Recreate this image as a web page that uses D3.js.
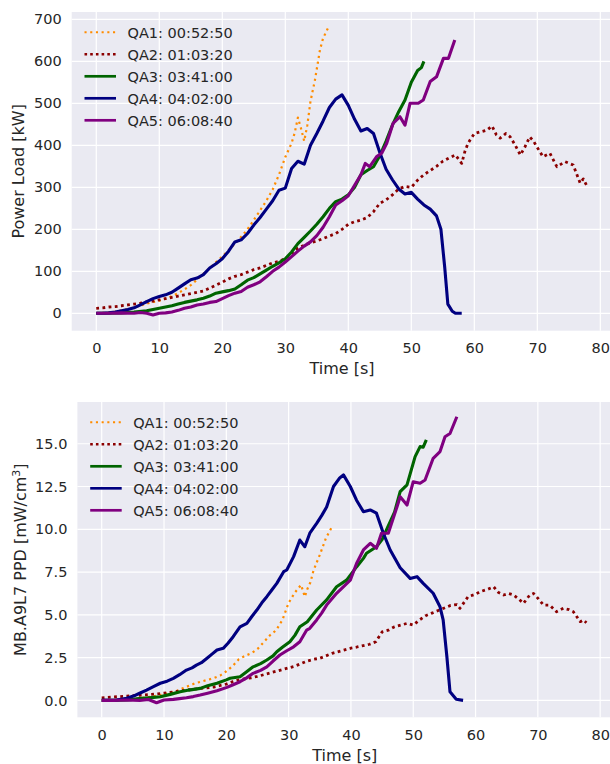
<!DOCTYPE html>
<html>
<head>
<meta charset="utf-8">
<script src="https://cdn.jsdelivr.net/npm/d3@7"></script>
<style>
body{margin:0;background:#fff;}
text{font-family:"DejaVu Sans",sans-serif;fill:#262626;}
</style>
</head>
<body>
<div id="chart"></div>
<script>
// series names and colours
var seriesNames = ['QA1: 00:52:50','QA2: 01:03:20','QA3: 03:41:00','QA4: 04:02:00','QA5: 06:08:40'];
var seriesColors = ['#ff8c00','#8b0000','#006400','#000080','#800080'];

var xTicks = [0,10,20,30,40,50,60,70,80];
var loadTicks = [0,100,200,300,400,500,600,700];
var ppdTicks = [0,2.5,5,7.5,10,12.5,15];

// power load [kW], pairs of [time s, value]
var qa1Load = [[0,0],[1,1],[2,2],[3,4],[4,7],[5,10],[6,14],[7,18],[8,23],[9,27],[10,30],[11,35],[12,41],[13,48],[14,57],[15,67],[16,80],[17,94],[18,107],[19,122],[20,135],[21,150],[22,166],[23,182],[24,200],[25,222],[26,245],[27,268],[28,295],[29,330],[30,372],[31,405],[31.5,430],[32,466],[32.5,440],[33,410],[33.5,448],[34,505],[34.7,555],[35.5,627],[36,655],[36.8,680]];
var qa2Load = [[0,12],[1,13],[2,15],[3,16],[4,18],[5,20],[6,22],[7,24],[8,27],[9,29],[10,32],[11,35],[12,38],[13,41],[14,44],[15,47],[16,50],[17,53],[18,60],[19,67],[20,74],[21,82],[22,88],[23,92],[24,98],[25,104],[26,108],[27,114],[28,120],[29,124],[30,130],[31,142],[32,155],[33,162],[34,168],[35,172],[36,178],[37,184],[38,190],[39,200],[40,212],[41,218],[42,222],[43,228],[44,242],[45,262],[46,270],[47,282],[48,296],[49,302],[50,300],[51,317],[52,330],[53,340],[54,350],[55,362],[56,370],[57,377],[58,357],[58.5,385],[59,405],[60,428],[61,432],[62,436],[62.8,446],[63.5,425],[64.1,417],[65,428],[65.7,420],[66.5,400],[67.3,377],[68,395],[68.8,420],[69.4,410],[69.9,397],[70.9,373],[72,381],[73.1,349],[74.4,361],[75.7,353],[76.8,310],[77.3,320],[77.8,305]];
var qa3Load = [[0,0],[2,0],[4,1],[6,3],[8,6],[10,12],[11,15],[12,18],[13,22],[14,26],[15,29],[16,32],[17,36],[18,41],[19,48],[20,51],[21,54],[22,58],[23,68],[24,79],[25,85],[26,94],[27,103],[28,112],[29,120],[30,130],[31,146],[32,166],[33,181],[34,196],[35,212],[36,230],[37,250],[38,266],[39,272],[40,282],[41,300],[42,330],[43,340],[44,349],[45,375],[46,410],[47,448],[48,480],[49,508],[50,550],[51,578],[51.6,585],[52,600]];
var qa4Load = [[0,0],[1,0],[2,1],[3,3],[4,6],[5,9],[6,13],[7,20],[8,28],[9,35],[10,40],[11,44],[12,50],[13,60],[14,70],[15,80],[16,84],[17,92],[18,108],[19,118],[20,130],[21,148],[22,170],[23,175],[24,190],[25,210],[26,228],[27,248],[28,268],[29,293],[30,298],[31,345],[32,362],[33,355],[34,400],[35,428],[36,458],[37,490],[38,510],[39,520],[40,495],[41,462],[42,434],[43,440],[44,428],[45,383],[46,343],[47,318],[48,296],[49,284],[50,288],[51,272],[52,258],[53,248],[54,232],[54.7,200],[55.3,110],[55.8,22],[56.5,5],[57,0],[58,0]];
var qa5Load = [[0,0],[2,0],[4,1],[6,0],[7,2],[8,0],[9,-4],[10,0],[11,1],[12,3],[13,7],[14,12],[15,15],[16,20],[17,22],[18,26],[19,28],[20,35],[21,42],[22,48],[23,52],[24,62],[25,68],[26,75],[27,87],[28,100],[29,110],[30,122],[31,135],[32,148],[33,160],[34,170],[35,185],[36,205],[37,230],[38,258],[39,268],[40,280],[41,305],[42,330],[42.7,357],[43.4,349],[44.5,373],[45.3,381],[46.1,405],[47.1,452],[48.2,468],[49,448],[49.8,500],[51.1,500],[51.9,508],[53,552],[54,563],[55.1,607],[55.9,607],[56.9,651]];

// PPD [mW/cm3]
var qa1Ppd = [[0,0],[2,0.02],[4,0.06],[6,0.12],[8,0.22],[10,0.35],[11,0.45],[12,0.55],[13,0.7],[14,0.85],[15,1.0],[16,1.1],[17,1.2],[18,1.3],[19,1.45],[20,1.7],[21,2.0],[22,2.4],[23,2.6],[24,2.75],[25,3.0],[26,3.4],[27,3.8],[28,4.1],[29,4.7],[30,5.7],[31,6.3],[32,6.75],[32.6,6.06],[33,6.5],[33.5,6.9],[34,7.6],[35,8.5],[36,9.5],[36.9,10.1]];
var qa2Ppd = [[0,0.15],[2,0.2],[4,0.25],[6,0.3],[8,0.35],[10,0.42],[12,0.52],[14,0.62],[16,0.7],[18,0.78],[20,0.95],[21,1.09],[22,1.2],[24,1.32],[25,1.4],[26,1.5],[28,1.7],[29,1.8],[30,1.9],[31,2.0],[32,2.15],[33,2.3],[34,2.4],[35,2.46],[36,2.6],[37,2.75],[38,2.85],[39,2.95],[40,3.05],[41,3.12],[42,3.2],[43,3.28],[44,3.43],[45,4.0],[46,4.1],[47,4.3],[48,4.4],[49,4.5],[50,4.4],[51,4.7],[52,4.95],[53,5.1],[54,5.25],[55,5.4],[56,5.55],[57,5.6],[57.5,5.38],[58.8,6.06],[60,6.2],[60.7,6.35],[62,6.5],[62.9,6.64],[63.7,6.3],[64.5,6.16],[65.3,6.25],[66.1,6.16],[67,5.9],[67.7,5.67],[68.7,6.16],[69.3,6.25],[69.8,6.06],[70.9,5.57],[71.9,5.57],[73,5.18],[74.1,5.38],[75,5.3],[75.7,5.18],[76.8,4.6],[77.3,4.7],[77.8,4.54]];
var qa3Ppd = [[0,0],[2,0],[4,0.03],[5,0.06],[6,0.1],[8,0.16],[9.4,0.21],[11,0.35],[12.6,0.5],[14,0.6],[15.8,0.7],[17,0.85],[18.5,1.0],[20,1.2],[20.6,1.29],[22.2,1.38],[23,1.6],[24.3,1.96],[25.5,2.15],[26.5,2.36],[27.5,2.6],[28.1,2.84],[29,3.1],[30.2,3.43],[31,3.8],[31.8,4.3],[33,4.6],[34.5,5.28],[36.1,5.87],[37.7,6.64],[39.3,7.03],[40.9,7.8],[42,8.3],[42.5,8.6],[44.1,8.98],[45,9.4],[45.7,9.96],[47,11.0],[47.9,12.2],[49,12.6],[50.3,14.25],[51.1,14.83],[51.6,14.8],[52.1,15.22]];
var qa4Ppd = [[0,0],[1,0],[2.4,0.02],[4,0.12],[5.1,0.25],[6,0.4],[7.2,0.6],[8.3,0.8],[9.4,1.0],[10.5,1.12],[11.5,1.29],[12.5,1.5],[13.6,1.77],[14.5,1.9],[15.2,2.06],[16,2.2],[16.9,2.46],[17.7,2.7],[18.5,2.94],[19.5,3.04],[20.3,3.35],[21.1,3.72],[22.2,4.3],[23.3,4.5],[24.1,4.9],[24.9,5.28],[25.7,5.7],[26.5,6.06],[27.3,6.45],[28.1,6.84],[29.2,7.52],[29.7,7.62],[30.8,8.4],[31.8,9.37],[32.6,8.98],[33.4,9.77],[34.5,10.35],[35.3,10.8],[36.1,11.3],[37.2,12.5],[38.2,13.0],[38.8,13.18],[39.9,12.5],[40.9,11.7],[42,11.03],[43.1,11.13],[44.1,10.94],[45.2,9.77],[46.3,8.79],[47.9,7.75],[49.5,7.13],[50.6,7.23],[51.6,6.84],[53.2,6.26],[54.3,5.47],[54.8,4.7],[55.4,2.55],[55.9,0.5],[56.9,0.06],[58,0]];
var qa5Ppd = [[0,0],[2,0],[4,0.02],[6.1,0],[7.5,0.05],[8.8,-0.14],[10,0.02],[11.5,0.06],[12.5,0.1],[13.6,0.15],[14.7,0.22],[15.8,0.31],[17,0.42],[18.5,0.56],[20.1,0.76],[21,0.9],[22.2,1.09],[23.2,1.3],[24.3,1.58],[25.5,1.75],[26.5,1.96],[27.5,2.3],[28.6,2.65],[29.7,2.9],[30.8,3.13],[31.8,3.43],[32.9,4.11],[33.4,4.21],[34.5,4.7],[35.3,5.1],[36.1,5.57],[37.7,6.26],[39.9,7.03],[40.9,8.0],[42,8.79],[43.1,9.18],[44.1,8.89],[44.9,9.77],[46,9.77],[47.4,11.32],[47.9,11.9],[49,11.42],[50,12.78],[51.1,12.69],[51.9,12.88],[53.2,14.15],[54.3,14.54],[55.1,15.41],[55.9,15.6],[57,16.58]];

// line styles: dotted for the first two, solid for the rest (w = data line, lw = legend handle)
var lineStyles = [
	{w:2.2, lw:2.1, dash:'2.2,3.6'},
	{w:2.8, lw:2.6, dash:'2.8,3.4'},
	{w:3.1, lw:2.7, dash:null},
	{w:3.1, lw:2.7, dash:null},
	{w:3.1, lw:2.7, dash:null}
];

var svg = d3.select('#chart')
	.append('svg')
	.attr('width',610)
	.attr('height',764);

function drawPanel(p){
	var x = d3.scaleLinear().domain([-3.9,81.9]).range([p.l,p.r]);
	var y = d3.scaleLinear().domain(p.yDomain).range([p.b,p.t]);
	var g = svg.append('g');

	g.append('rect')
		.attr('x',p.l).attr('y',p.t)
		.attr('width',p.r-p.l).attr('height',p.b-p.t)
		.style('fill','#eaeaf2');

	var clipId = 'clip'+p.id;
	g.append('clipPath').attr('id',clipId)
		.append('rect')
		.attr('x',p.l).attr('y',p.t)
		.attr('width',p.r-p.l).attr('height',p.b-p.t);

	// grid
	g.selectAll('.vgrid').data(xTicks).enter().append('line')
		.attr('x1',function(d){return x(d);}).attr('x2',function(d){return x(d);})
		.attr('y1',p.t).attr('y2',p.b)
		.style('stroke','#fff').style('stroke-width',1.2);
	g.selectAll('.hgrid').data(p.yTicks).enter().append('line')
		.attr('x1',p.l).attr('x2',p.r)
		.attr('y1',function(d){return y(d);}).attr('y2',function(d){return y(d);})
		.style('stroke','#fff').style('stroke-width',1.2);

	// axes with d3, domain and ticks hidden
	var xAxis = g.append('g')
		.attr('transform','translate(0,'+p.b+')')
		.call(d3.axisBottom(x).tickValues(xTicks).tickSize(0).tickPadding(12));
	var yAxis = g.append('g')
		.attr('transform','translate('+p.l+',0)')
		.call(d3.axisLeft(y).tickValues(p.yTicks).tickFormat(p.fmt).tickSize(0).tickPadding(10));
	[xAxis,yAxis].forEach(function(a){
		a.select('.domain').remove();
		a.selectAll('text').style('font-size','14.5px').style('fill','#262626')
			.style('font-family','"DejaVu Sans",sans-serif');
	});

	var line = d3.line()
		.x(function(d){return x(d[0]);})
		.y(function(d){return y(d[1]);});

	var lines = g.append('g').attr('clip-path','url(#'+clipId+')');
	p.series.forEach(function(s,i){
		var path = lines.append('path')
			.attr('d',line(s))
			.style('fill','none')
			.style('stroke',seriesColors[i])
			.style('stroke-width',lineStyles[i].w)
			.style('stroke-linejoin','round');
		if(lineStyles[i].dash){
			path.style('stroke-dasharray',lineStyles[i].dash);
		}
	});

	// legend
	var lg = g.append('g').attr('transform','translate('+(p.l+12.8)+','+(p.t+20.3)+')');
	seriesNames.forEach(function(name,i){
		var row = lg.append('g').attr('transform','translate(0,'+(i*22)+')');
		var h = row.append('line')
			.attr('x1',0).attr('x2',31.5).attr('y1',0).attr('y2',0)
			.style('stroke',seriesColors[i])
			.style('stroke-width',lineStyles[i].lw);
		if(lineStyles[i].dash){
			h.style('stroke-dasharray',lineStyles[i].lw+','+(5.7-lineStyles[i].lw));
		}
		row.append('text')
			.attr('x',43).attr('y',0).attr('dy','0.36em')
			.style('font-size','14.5px')
			.text(name);
	});

	// axis labels
	g.append('text')
		.attr('x',(p.l+p.r)/2).attr('y',p.xLabelY)
		.attr('text-anchor','middle')
		.style('font-size','16px')
		.text('Time [s]');

	var yl = g.append('text')
		.attr('transform','translate('+p.yLabelX+','+((p.t+p.b)/2)+') rotate(-90)')
		.attr('text-anchor','middle')
		.style('font-size','16px');
	p.yLabel(yl);
}

drawPanel({
	id:1, l:71.7, r:612.3, t:12, b:330.7,
	yDomain:[-41.4,717.4], yTicks:loadTicks, fmt:d3.format('d'),
	series:[qa1Load,qa2Load,qa3Load,qa4Load,qa5Load],
	xLabelY:373.5, yLabelX:24,
	yLabel:function(t){ t.text('Power Load [kW]'); }
});

drawPanel({
	id:2, l:77.4, r:612, t:402, b:717.3,
	yDomain:[-0.99,17.44], yTicks:ppdTicks, fmt:d3.format('.1f'),
	series:[qa1Ppd,qa2Ppd,qa3Ppd,qa4Ppd,qa5Ppd],
	xLabelY:760.5, yLabelX:26,
	yLabel:function(t){
		t.append('tspan').text('MB.A9L7 PPD [mW/cm');
		t.append('tspan').attr('dy',-6).style('font-size','11px').text('3');
		t.append('tspan').attr('dy',6).text(']');
	}
});
</script>
</body>
</html>
